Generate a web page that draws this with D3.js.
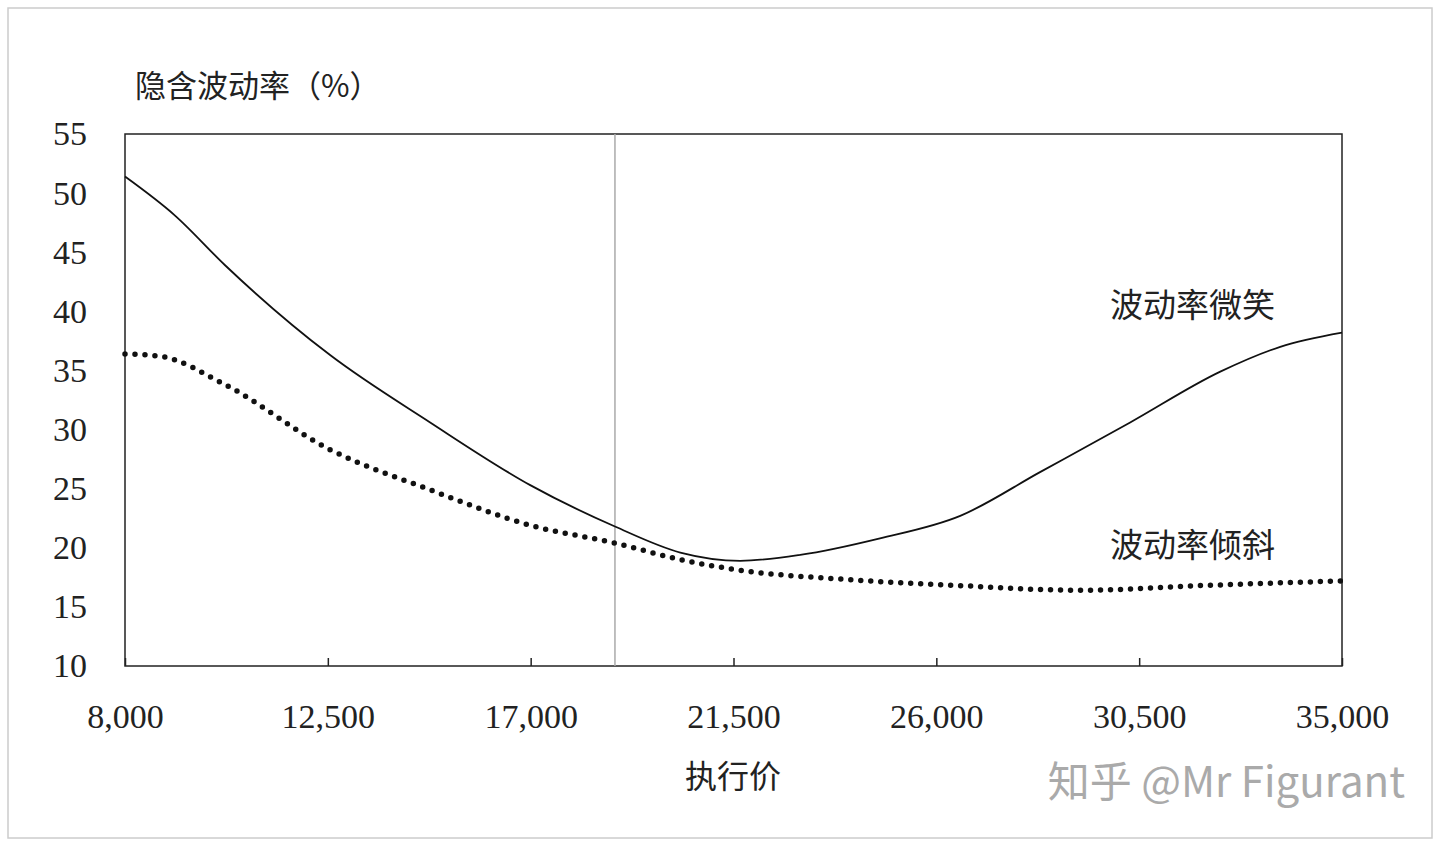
<!DOCTYPE html><html><head><meta charset="utf-8"><script src="https://cdn.jsdelivr.net/npm/d3@7"></script>
<style>body{margin:0;background:#fff}</style></head><body><svg id="c" width="1440" height="847"></svg>
<script>
const xTicks=[8000,12500,17000,21500,26000,30500,35000];
const yTicks=[10,15,20,25,30,35,40,45,50,55];
const smileX=[8000,9110,10220,12550,14770,16990,18870,20320,21650,22980,24750,26530,28300,30300,32300,33630,35000];
const smileY=[51.4,48.1,43.9,36.3,30.6,25.3,21.8,19.6,18.9,19.4,20.8,22.7,26.4,30.6,34.9,37.0,38.2];
const skewX=[8000,8780,10220,12550,14770,16990,18870,20320,21650,24090,26530,29200,31860,35000];
const skewY=[36.4,36.2,33.8,28.3,24.9,21.9,20.4,19.0,18.1,17.3,16.8,16.4,16.8,17.2];
const atmStrike=18870;
const svg=d3.select("#c");
svg.append("rect").attr("x",8).attr("y",8).attr("width",1424).attr("height",830).attr("fill","#fff").attr("stroke","#ccc").attr("stroke-width",1.5);
const x=d3.scaleLinear().domain([8000,35000]).range([125,1342]);
const y=d3.scaleLinear().domain([10,55]).range([666,134]);
const serif="'Liberation Serif','DejaVu Serif',serif", cjk="'Noto Sans CJK SC',sans-serif";
svg.append("rect").attr("x",125).attr("y",134).attr("width",1217).attr("height",532).attr("fill","none").attr("stroke","#222").attr("stroke-width",1.5);
svg.append("line").attr("x1",x(atmStrike)).attr("x2",x(atmStrike)).attr("y1",134).attr("y2",666).attr("stroke","#aaa").attr("stroke-width",1.5);
const xa=svg.append("g").attr("transform","translate(0,666)").call(d3.axisBottom(x).tickValues(xTicks).tickSize(-8).tickPadding(38).tickFormat(d3.format(",")));
const ya=svg.append("g").attr("transform","translate(125,0)").call(d3.axisLeft(y).tickValues(yTicks).tickSize(0).tickPadding(32).tickFormat(d=>d));
[xa,ya].forEach(a=>{a.select(".domain").remove();a.selectAll("text").attr("font-family",serif).attr("font-size",34).attr("fill","#222");a.selectAll("line").attr("stroke","#222").attr("stroke-width",1.5);});
ya.selectAll("text").attr("text-anchor","start").attr("x",-72);
const line=d3.line().x(d=>x(d[0])).y(d=>y(d[1])).curve(d3.curveMonotoneX);
svg.append("path").attr("d",line(d3.zip(smileX,smileY))).attr("fill","none").attr("stroke","#111").attr("stroke-width",1.8);
svg.append("path").attr("d",line(d3.zip(skewX,skewY))).attr("fill","none").attr("stroke","#111").attr("stroke-width",5.5).attr("stroke-linecap","round").attr("stroke-dasharray","0 10");
const t=(s,xx,yy,sz,anchor,fill,fam)=>svg.append("text").text(s).attr("x",xx).attr("y",yy).attr("font-size",sz).attr("font-family",fam||cjk).attr("text-anchor",anchor||"start").attr("fill",fill||"#222");
t("隐含波动率（%）",135,97,31);
t("执行价",733,788,32,"middle");
t("波动率微笑",1110,317,33);
t("波动率倾斜",1110,557,33);
t("知乎 @Mr Figurant",1405,797,42,"end","#aaa");
</script></body></html>
